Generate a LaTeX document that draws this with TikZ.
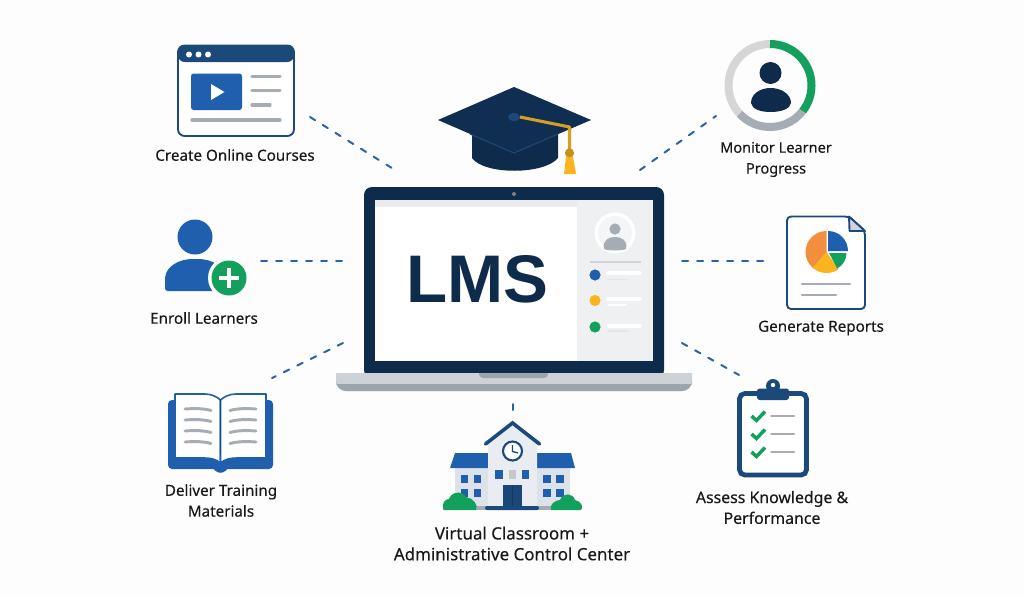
\documentclass[tikz,border=0pt]{standalone}
\usepackage{fontspec}
\setmainfont{Noto Sans}
\newfontfamily\labelfont[FakeBold=0.25]{Noto Sans}
\newfontfamily\lmsfont{Liberation Sans}
\usetikzlibrary{calc}
\definecolor{navy}{HTML}{0F2B4C}
\definecolor{steel}{HTML}{1B4A7A}
\definecolor{brandblue}{HTML}{1F5FAD}
\definecolor{linkblue}{HTML}{2B62A5}
\definecolor{leaf}{HTML}{12A05C}
\definecolor{amber}{HTML}{FBB41E}
\definecolor{tang}{HTML}{F28F3F}
\definecolor{ash}{HTML}{A5ACB4}
\definecolor{mist}{HTML}{EEF0F2}
\definecolor{paper}{HTML}{FDFDFD}
\definecolor{deckA}{HTML}{CDD2D6}
\definecolor{deckB}{HTML}{9CA4AC}
\definecolor{wing}{HTML}{DCE2E9}
\definecolor{tower}{HTML}{E9EDF2}
\tikzset{
  px/.style={x=0.75pt,y=-0.75pt},
  caption/.style={font=\labelfont\fontsize{#1}{15.6pt}\selectfont,text=black!90,align=center,inner sep=0pt},
  caption/.default=11.4pt,
  link/.style={draw=linkblue,line width=1.5pt,dash pattern=on 4.5pt off 6.75pt,line cap=round},
  rule/.style={draw=ash,line width=2.4pt,line cap=round},
  softrule/.style={draw=white,line width=2.6pt,line cap=round},
  faintrule/.style={draw=black!10,line width=1.2pt,line cap=round},
  tick/.style={draw=leaf,line width=2.6pt,line join=miter},
  outline/.style={draw=steel,line width=1.4pt,line join=round},
}
\begin{document}
\begin{tikzpicture}[px]
\useasboundingbox[fill=paper] (0,0) rectangle (1024,596);

% connector ends
\coordinate (cA1) at (310,117); \coordinate (cA2) at (395,170);
\coordinate (cB1) at (261,261); \coordinate (cB2) at (343,261);
\coordinate (cC1) at (272,378); \coordinate (cC2) at (343,343);
\coordinate (cD1) at (716,116); \coordinate (cD2) at (640,170);
\coordinate (cE1) at (682,261); \coordinate (cE2) at (765,261);
\coordinate (cF1) at (682,343); \coordinate (cF2) at (739,375);
\coordinate (cG1) at (512.5,404); \coordinate (cG2) at (512.5,411);
\foreach \a/\b in {cA1/cA2,cB1/cB2,cC2/cC1,cD2/cD1,cE1/cE2,cF1/cF2,cG1/cG2}
  \draw[link] (\a) -- (\b);

% laptop
\fill[navy,rounded corners=6] (364,378) -- (364,187) -- (664,187) -- (664,378) -- cycle;
\fill[white] (375,200) rectangle (653,361);
\fill[mist] (577,200) rectangle (653,361);
\fill[black!8] (375,200) rectangle (577,207);
\fill[gray] (514,194) circle (2);
\fill[white] (615,233) circle (20.5);
\fill[mist!70!white] (615,233) circle (17);
\fill[ash] (615,229) circle (5.6);
\fill[ash] (604,249) .. controls (602,240) and (609,237) .. (615,237) .. controls (621,237) and (628,240) .. (626,249) .. controls (622,251) and (608,251) .. (604,249) -- cycle;
\draw[black!17,line width=1.3pt] (590,262) -- (641,262);
\fill[brandblue] (595,275) circle (5.6);
\fill[amber] (595,300.5) circle (5.6);
\fill[leaf] (595,327) circle (5.6);
\draw[softrule] (608,273) -- (640,273);
\draw[faintrule] (608,279.5) -- (627,279.5);
\draw[softrule] (608,299) -- (640,299);
\draw[softrule,line width=1.2pt] (608,305) -- (626,305);
\draw[softrule] (608,326) -- (640,326);
\draw[faintrule] (608,331) -- (628,331);
\fill[deckA] (336,373) -- (692,373) -- (692,381) arc (0:90:10) -- (346,391) arc (90:180:10) -- cycle;
\fill[deckB] (336,384) -- (692,384) -- (692,381) arc (0:90:10) -- (346,391) arc (90:180:10) -- cycle;
\fill[deckB,rounded corners=3] (479,370) rectangle (548,378);
\fill[navy] (472,370) rectangle (556,373);
\node[inner sep=0pt,text=navy,font=\lmsfont\bfseries\fontsize{50.5pt}{52pt}\selectfont] (lms) at (477.5,279.5) {LMS};

% graduation cap
\fill[navy] (472,133) -- (472,158) .. controls (484,175) and (544,175) .. (558,158) -- (558,133) -- cycle;
\path[fill=navy!90!steel,line join=round] (514,87) -- (591,120) -- (514,153) -- (438,120) -- cycle;
\draw[steel,line width=0.8pt] (470,134) -- (514,153) -- (558,134);
\fill[steel] (514,117) ellipse (6 and 4);
\draw[amber!85!black!95,line width=2.3pt,line join=round] (520,117) -- (569.5,127) -- (569.5,150);
\fill[amber!80!black] (569.5,153) circle (4.6);
\fill[amber] (566,157) -- (573,157) -- (576,174) -- (564,174) -- cycle;

% browser window icon
\draw[outline,fill=white,rounded corners=5] (178,45.5) rectangle (294,136);
\fill[steel,rounded corners=5] (178,62) -- (178,45) -- (294,45) -- (294,62) -- cycle;
\foreach \x in {189,198.5,208} \fill[white] (\x,54.5) circle (3);
\fill[brandblue,rounded corners=2] (191,73.5) rectangle (242,110);
\fill[white] (211,84) -- (224.5,92) -- (211,100) -- cycle;
\draw[rule] (252,76.5) -- (280,76.5);
\draw[rule] (252,90.5) -- (280,90.5);
\draw[rule] (252,105) -- (270,105);
\draw[rule] (192,120) -- (280,120);
\node[caption] (tA) at (235,155) {Create Online Courses};

% enrolling learner icon
\fill[brandblue] (195,237) circle (17.5);
\fill[brandblue,rounded corners=2] (165,291) -- (165,280) .. controls (166,266) and (180,259) .. (195,259) .. controls (212,259) and (224,266) .. (226,280) -- (226,291) -- cycle;
\fill[paper] (229,278) circle (21);
\fill[leaf] (229,278) circle (17.5);
\draw[white,line width=3.2pt] (219,278) -- (239,278) (229,268) -- (229,288);
\node[caption] (tB) at (204,318) {Enroll Learners};

% open book icon
\fill[brandblue,rounded corners=3] (168,400) rectangle (273,469);
\fill[brandblue] (212,466) .. controls (216,475) and (225,475) .. (229,466) -- cycle;
\draw[brandblue,line width=1.2pt,fill=white,line join=round] (175,394) -- (205,394) .. controls (212,394) and (217,397) .. (220.5,400) -- (220.5,463) .. controls (216,459) and (210,458) .. (204,458) -- (175,458) -- cycle;
\draw[brandblue,line width=1.2pt,fill=white,line join=round] (266,394) -- (236,394) .. controls (229,394) and (224,397) .. (220.5,400) -- (220.5,463) .. controls (225,459) and (231,458) .. (237,458) -- (266,458) -- cycle;
\draw[steel,line width=1.1pt] (220.5,399) -- (220.5,455);
\foreach \y in {409,420,431,442}{
  \draw[rule,line width=2.2pt] (185,\y) .. controls (195,\y-0.8) and (204,\y-0.5) .. (211,\y+1.5);
  \draw[rule,line width=2.2pt] (256,\y) .. controls (246,\y-0.8) and (237,\y-0.5) .. (230,\y+1.5);
}
\node[caption] (tC) at (221,500.5) {Deliver Training\\Materials};

% school building icon
\fill[wing] (455,468) rectangle (570,507);
\fill[brandblue] (455,453) -- (488,453) -- (488,468) -- (450,468) -- cycle;
\fill[brandblue] (537,453) -- (571,453) -- (575,468) -- (537,468) -- cycle;
\fill[tower] (488,507) -- (488,443) -- (512.5,424) -- (537,443) -- (537,507) -- cycle;
\draw[steel,line width=2.7pt,line cap=round,line join=miter] (485.5,444) -- (512.5,423) -- (539.5,444);
\draw[steel,line width=1.6pt,fill=white] (512.5,451) circle (9.5);
\draw[steel,line width=1pt] (512.5,445) -- (512.5,451.5) -- (518,453);
\foreach \x in {499,525.5} \fill[brandblue] (\x-3.7,470) rectangle (\x+3.7,478.5);
\fill[black!22] (508.7,470) rectangle (516.3,478.5);
\foreach \x in {464.5,477.5,547,560} \foreach \y in {478.5,492.5}
  \fill[brandblue] (\x-3.7,\y-4) rectangle (\x+3.7,\y+4);
\fill[ash] (465,506) rectangle (560,510);
\fill[steel!90!navy] (503,485) rectangle (522,508);
\draw[navy!60!steel,line width=0.5pt] (512.5,485) -- (512.5,508);
\fill[steel,rounded corners=1.5] (485,506) rectangle (539,510);
\fill[leaf] (443.5,510) .. controls (441,502) and (446,499) .. (449,499) .. controls (451,492) and (462,490) .. (466,497) .. controls (473,498) and (479,505) .. (476,510) -- cycle;
\fill[leaf] (551,510) .. controls (549,505) and (555,500) .. (560,500) .. controls (563,492) and (573,493) .. (575,500) .. controls (581,501) and (584,507) .. (581,510) -- cycle;
\node[caption=12.7pt] (tG) at (512,543.5) {Virtual Classroom +\\Administrative Control Center};

% progress ring icon
\coordinate (ringC) at (770,85.5);
\draw[black!16,line width=6pt] (ringC) ++(137:41.5) arc (137:270:41.5);
\draw[ash,line width=6pt] (ringC) ++(38:41.5) arc (38:137:41.5);
\draw[leaf,line width=6pt] (ringC) ++(-90:41.5) arc (-90:38:41.5);
\fill[navy] (770.5,73) circle (11);
\fill[navy] (751,103) .. controls (751,94) and (760,88) .. (770.5,88) .. controls (781,88) and (791,94) .. (791,103) .. controls (790,109) and (781,112) .. (770.5,112) .. controls (760,112) and (752,109) .. (751,103) -- cycle;
\node[caption=10.9pt] (tD) at (776,159.5) {Monitor Learner\\Progress};

% report page icon
\draw[outline,fill=white,rounded corners=3] (787,216.5) -- (849,216.5) -- (865,231) -- (865,309) -- (787,309) -- cycle;
\draw[outline,fill=blue!20!gray!30,line join=round] (849,216.5) -- (849.5,231) -- (865,231) -- cycle;
\fill[tang] (826.5,252) -- ++(-90:21) arc (-90:-230:21) -- cycle;
\fill[amber] (826.5,252) -- ++(130:21) arc (130:55:21) -- cycle;
\fill[brandblue] (828,251) -- ++(-90:20) arc (-90:0:20) -- cycle;
\fill[leaf] (829,253) -- ++(0:17.5) arc (0:62:17.5) -- cycle;
\draw[rule,line width=2pt] (802,284) -- (850,284);
\draw[rule,line width=2pt] (802,295) -- (836,295);
\node[caption] (tE) at (821,328) {Generate Reports};

% clipboard icon
\draw[steel,line width=3.6pt,fill=white,rounded corners=4] (739.5,393.5) rectangle (806.5,475);
\fill[steel] (773,386) circle (7);
\fill[white] (773,385) circle (2.2);
\fill[steel,rounded corners=2] (757,388.5) rectangle (789,400);
\foreach \y in {416,434,452}{
  \draw[tick] (751.5,\y) -- (756.5,\y+4.5) -- (765,\y-4.5);
  \draw[rule,line width=2.2pt] (771.5,\y) -- (794,\y);
}
\node[caption=11.9pt] (tF) at (772,507.5) {Assess Knowledge \&\\Performance};
\end{tikzpicture}
\end{document}
